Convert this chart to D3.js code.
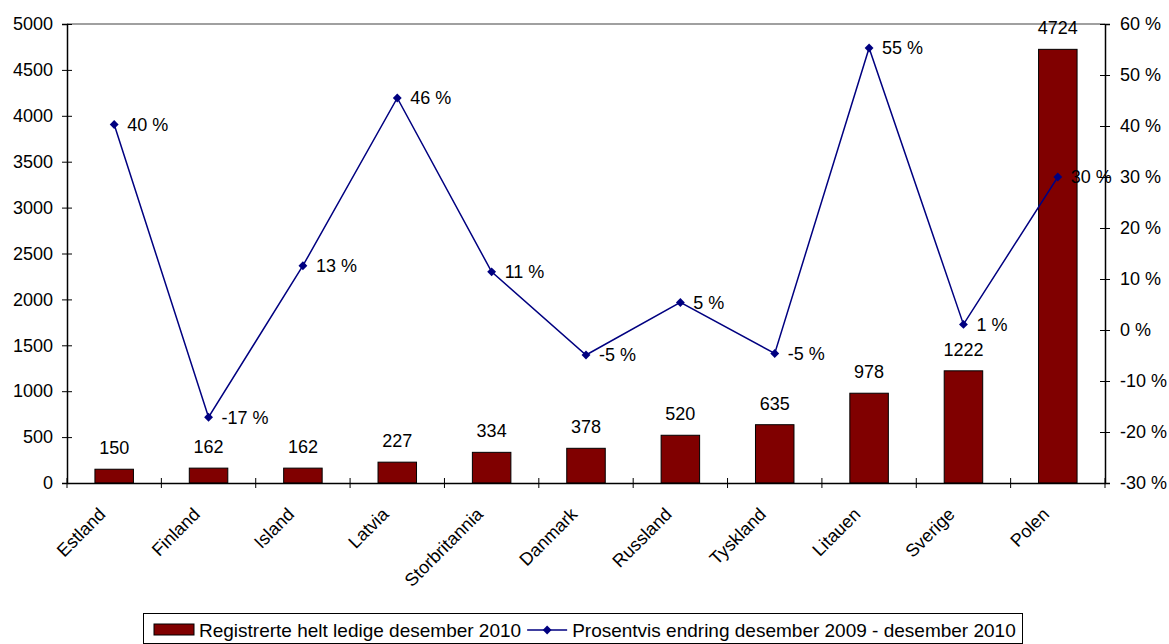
<!DOCTYPE html>
<html>
<head>
<meta charset="utf-8">
<script src="https://cdn.jsdelivr.net/npm/d3@7"></script>
<style>
	body { margin: 0; background: #fff; }
	svg { display: block; font-family: "Liberation Sans", Arial, sans-serif; }
</style>
</head>
<body>
<svg id="chart" width="1169" height="644"></svg>
<script>
	// data
	var categories = ["Estland", "Finland", "Island", "Latvia", "Storbritannia", "Danmark",
		"Russland", "Tyskland", "Litauen", "Sverige", "Polen"];
	var ledige = [150, 162, 162, 227, 334, 378, 520, 635, 978, 1222, 4724];
	var endring = [40.3, -17.1, 12.6, 45.5, 11.4, -4.9, 5.4, -4.6, 55.3, 1.1, 30.0];
	var leftTicks = [0, 500, 1000, 1500, 2000, 2500, 3000, 3500, 4000, 4500, 5000];
	var rightTicks = [-30, -20, -10, 0, 10, 20, 30, 40, 50, 60];
	var barLabel = "Registrerte helt ledige desember 2010";
	var lineLabel = "Prosentvis endring desember 2009 - desember 2010";

	var config = {
		left: 67, right: 1105, top: 24, bottom: 483,
		barColor: "#800000",
		lineColor: "#000080",
		fontSize: 18,
		legendFontSize: 19,
		barWidth: 38.5
	};

	var svg = d3.select("#chart");

	var x = d3.scaleBand()
		.domain(categories)
		.range([config.left, config.right])
		.padding(0);

	var yLeft = d3.scaleLinear().domain([0, 5000]).range([config.bottom, config.top]);
	var yRight = d3.scaleLinear().domain([-30, 60]).range([config.bottom, config.top]);

	var center = function(d) { return x(d) + x.bandwidth() / 2; };
	var pct = function(v) { return Math.round(v) + " %"; };

	// top border line
	svg.append("line")
		.attr("x1", config.left).attr("x2", config.right)
		.attr("y1", config.top).attr("y2", config.top)
		.attr("stroke", "#808080").attr("stroke-width", 1.5);

	// bars
	svg.append("g").selectAll("rect")
		.data(ledige)
		.join("rect")
		.attr("x", function(d, i) { return center(categories[i]) - config.barWidth / 2; })
		.attr("y", function(d) { return yLeft(d); })
		.attr("width", config.barWidth)
		.attr("height", function(d) { return yLeft(0) - yLeft(d); })
		.attr("fill", config.barColor)
		.attr("stroke", "#000")
		.attr("stroke-width", 1);

	svg.append("g").selectAll("text")
		.data(ledige)
		.join("text")
		.attr("x", function(d, i) { return center(categories[i]); })
		.attr("y", function(d) { return yLeft(d) - 15; })
		.attr("text-anchor", "middle")
		.attr("font-size", config.fontSize)
		.text(function(d) { return d; });

	// left axis
	var gLeft = svg.append("g")
		.attr("transform", "translate(" + config.left + ",0)")
		.call(d3.axisLeft(yLeft).tickValues(leftTicks).tickSize(5).tickPadding(9)
			.tickFormat(d3.format("d")));
	gLeft.selectAll(".tick line").attr("x2", 5).attr("x1", -5);

	// right axis
	var gRight = svg.append("g")
		.attr("transform", "translate(" + config.right + ",0)")
		.call(d3.axisRight(yRight).tickValues(rightTicks).tickSize(5).tickPadding(10)
			.tickFormat(function(d) { return d + " %"; }));
	gRight.selectAll(".tick line").attr("x1", -5).attr("x2", 5);

	// bottom axis
	var gBottom = svg.append("g")
		.attr("transform", "translate(0," + config.bottom + ")")
		.call(d3.axisBottom(x).tickSize(0).tickFormat(""));

	gBottom.selectAll(".tick").remove();
	gBottom.selectAll("line.cat")
		.data(d3.range(categories.length + 1))
		.join("line")
		.attr("class", "cat")
		.attr("x1", function(i) { return config.left + i * x.step(); })
		.attr("x2", function(i) { return config.left + i * x.step(); })
		.attr("y1", -5).attr("y2", 5)
		.attr("stroke", "#000");

	[gLeft, gRight, gBottom].forEach(function(g) {
		g.select(".domain").attr("stroke", "#000").attr("stroke-width", 1.5);
		g.selectAll(".tick line").attr("stroke", "#000");
		g.selectAll(".tick text")
			.attr("font-size", config.fontSize)
			.attr("font-family", "Liberation Sans, Arial, sans-serif")
			.attr("fill", "#000");
	});

	svg.append("g").selectAll("text")
		.data(categories)
		.join("text")
		.attr("transform", function(d) { return "translate(" + (center(d) - 12) + "," + (config.bottom + 28) + ") rotate(-45)"; })
		.attr("text-anchor", "end")
		.attr("dy", "0.35em")
		.attr("font-size", config.fontSize)
		.text(function(d) { return d; });

	// line series
	var line = d3.line()
		.x(function(d, i) { return center(categories[i]); })
		.y(function(d) { return yRight(d); });

	svg.append("path")
		.datum(endring)
		.attr("d", line)
		.attr("fill", "none")
		.attr("stroke", config.lineColor)
		.attr("stroke-width", 1.5);

	var diamond = d3.symbol().type(d3.symbolDiamond2).size(50);

	svg.append("g").selectAll("path")
		.data(endring)
		.join("path")
		.attr("d", diamond)
		.attr("transform", function(d, i) { return "translate(" + center(categories[i]) + "," + yRight(d) + ")"; })
		.attr("fill", config.lineColor);

	svg.append("g").selectAll("text")
		.data(endring)
		.join("text")
		.attr("x", function(d, i) { return center(categories[i]) + 13; })
		.attr("y", function(d) { return yRight(d); })
		.attr("dy", "0.35em")
		.attr("font-size", config.fontSize)
		.text(pct);

	// legend
	var legend = svg.append("g").attr("transform", "translate(143,613)");
	legend.append("rect")
		.attr("x", 0.5).attr("y", 0.5)
		.attr("width", 879).attr("height", 30)
		.attr("fill", "#fff").attr("stroke", "#000").attr("stroke-width", 1);

	legend.append("rect")
		.attr("x", 11).attr("y", 11)
		.attr("width", 40).attr("height", 11)
		.attr("fill", config.barColor).attr("stroke", "#000");

	var t1 = legend.append("text")
		.attr("x", 56).attr("y", 17).attr("dy", "0.35em")
		.attr("font-size", config.legendFontSize)
		.text(barLabel);

	var t1End = 56 + t1.node().getComputedTextLength();

	legend.append("line")
		.attr("x1", t1End + 6).attr("x2", t1End + 46)
		.attr("y1", 17).attr("y2", 17)
		.attr("stroke", config.lineColor).attr("stroke-width", 1.5);
	legend.append("path")
		.attr("d", diamond)
		.attr("transform", "translate(" + (t1End + 26) + ",17)")
		.attr("fill", config.lineColor);

	legend.append("text")
		.attr("x", t1End + 51).attr("y", 17).attr("dy", "0.35em")
		.attr("font-size", config.legendFontSize)
		.text(lineLabel);
</script>
</body>
</html>
